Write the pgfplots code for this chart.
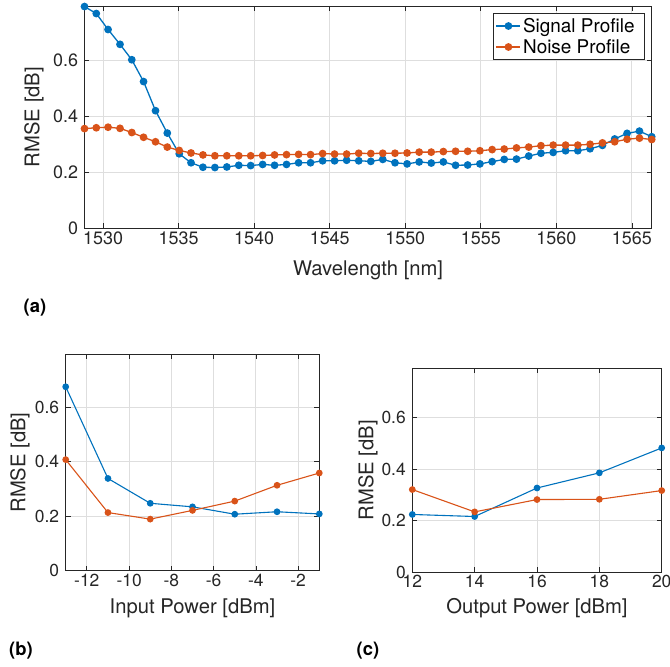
\documentclass[border=0pt]{standalone}
\usepackage{fontspec}
\setmainfont{TeX Gyre Heros}
\usepackage{pgfplots}
\usepackage{pgfplotstable}
\pgfplotsset{compat=1.18}
\definecolor{mblue}{rgb}{0,0.447,0.741}
\definecolor{morange}{rgb}{0.85,0.325,0.098}
\definecolor{axgray}{gray}{0.15}
\definecolor{gridgray}{gray}{0.87}

\pgfplotstableread{
lambda signal noise
1528.77 0.791 0.355
1529.55 0.766 0.358
1530.33 0.709 0.360
1531.12 0.656 0.356
1531.90 0.601 0.341
1532.68 0.523 0.324
1533.47 0.419 0.308
1534.25 0.339 0.289
1535.04 0.265 0.277
1535.82 0.233 0.268
1536.61 0.217 0.261
1537.40 0.216 0.258
1538.19 0.218 0.258
1538.98 0.224 0.258
1539.77 0.223 0.258
1540.56 0.227 0.259
1541.35 0.224 0.261
1542.14 0.227 0.262
1542.94 0.233 0.263
1543.73 0.233 0.262
1544.53 0.240 0.266
1545.32 0.240 0.264
1546.12 0.242 0.264
1546.92 0.240 0.267
1547.72 0.238 0.266
1548.51 0.245 0.267
1549.32 0.233 0.267
1550.12 0.229 0.268
1550.92 0.236 0.271
1551.72 0.232 0.271
1552.52 0.236 0.273
1553.33 0.224 0.274
1554.13 0.225 0.274
1554.94 0.229 0.276
1555.75 0.237 0.280
1556.55 0.245 0.282
1557.36 0.246 0.286
1558.17 0.257 0.289
1558.98 0.267 0.294
1559.79 0.270 0.296
1560.61 0.276 0.296
1561.42 0.276 0.296
1562.23 0.283 0.299
1563.05 0.295 0.304
1563.86 0.318 0.308
1564.68 0.338 0.317
1565.50 0.346 0.321
1566.31 0.326 0.316
}\wavetable

\pgfplotstableread{
pin signal noise
-13 0.674 0.407
-11 0.338 0.213
-9 0.247 0.189
-7 0.234 0.221
-5 0.207 0.255
-3 0.216 0.313
-1 0.208 0.358
}\intable

\pgfplotstableread{
pout signal noise
12 0.224 0.321
14 0.216 0.234
16 0.327 0.282
18 0.386 0.283
20 0.483 0.317
}\outtable

\newcommand{\labfont}{\fontsize{20.3}{23}\selectfont}
\pgfplotsset{
  mystyle/.style={
    scale only axis,
    anchor=south west,
    axis line style={axgray, line width=0.9bp},
    tick style={axgray, line width=0.8bp},
    tick align=inside,
    major tick length=5bp,
    grid=major,
    major grid style={gridgray, line width=0.9bp},
    ticklabel style={font=\fontsize{18}{20}\selectfont, text=axgray},
    yticklabel style={xshift=-3bp},
    /pgf/number format/assume math mode=true,
    /pgf/number format/1000 sep={},
    ymin=0, ymax=0.793,
    ytick={0,0.2,0.4,0.6},
    yticklabels={0,0.2,0.4,0.6},
  },
  smallticks/.style={ticklabel style={font=\fontsize{17.5}{20}\selectfont, text=axgray}},
  sigA/.style={color=mblue, line width=1.3bp, mark=*, mark size=3.2bp, mark options={solid, fill=mblue, draw=mblue}},
  noiA/.style={color=morange, line width=1.3bp, mark=*, mark size=3.2bp, mark options={solid, fill=morange, draw=morange}},
  sigB/.style={color=mblue, line width=1.1bp, mark=*, mark size=2.8bp, mark options={solid, fill=mblue, draw=mblue}},
  noiB/.style={color=morange, line width=1.1bp, mark=*, mark size=2.8bp, mark options={solid, fill=morange, draw=morange}},
}

\begin{document}
\begin{tikzpicture}
\path[use as bounding box] (0bp,0bp) rectangle (670bp,667bp);

% (a)
\begin{axis}[mystyle,
  at={(84.5bp,439bp)}, width=567.2bp, height=222bp,
  xmin=1528.77, xmax=1566.31,
  xtick={1530,1535,1540,1545,1550,1555,1560,1565},
  xticklabels={1530,1535,1540,1545,1550,1555,1560,1565},
  xlabel={Wavelength [nm]}, ylabel={RMSE [dB]},
  xlabel style={at={(axis description cs:0.5,-0.189)}, anchor=center, font=\labfont, text=axgray},
  ylabel style={at={(axis description cs:-0.089,0.5)}, anchor=center, rotate=0, font=\labfont, text=axgray},
  legend style={at={(0.988,0.967)}, anchor=north east, draw=axgray, line width=0.8bp,
    font=\fontsize{19}{22}\selectfont, text=black, cells={anchor=west},
    inner xsep=2bp, inner ysep=2.5bp, row sep=1.5bp},
  legend image code/.code={\draw[#1, mark repeat=2, mark phase=2] plot coordinates {(0bp,0bp) (12bp,0bp) (24bp,0bp)};},
]
\addplot[sigA] table[x=lambda, y=signal] {\wavetable};
\addlegendentry{Signal Profile\hspace*{6bp}}
\addplot[noiA] table[x=lambda, y=noise] {\wavetable};
\addlegendentry{Noise Profile}
\end{axis}

% (b)
\begin{axis}[mystyle, smallticks,
  at={(65.7bp,96.3bp)}, width=253.6bp, height=216.4bp,
  xmin=-13, xmax=-1,
  xtick={-12,-10,-8,-6,-4,-2},
  xticklabels={-12,-10,-8,-6,-4,-2},
  xlabel={Input Power [dBm]}, ylabel={RMSE [dB]},
  xlabel style={at={(axis description cs:0.5,-0.172)}, anchor=center, font=\labfont, text=axgray},
  ylabel style={at={(axis description cs:-0.180,0.5)}, anchor=center, rotate=0, font=\labfont, text=axgray},
]
\addplot[sigB] table[x=pin, y=signal] {\intable};
\addplot[noiB] table[x=pin, y=noise] {\intable};
\end{axis}

% (c)
\begin{axis}[mystyle, smallticks,
  at={(412.3bp,95bp)}, width=249.4bp, height=203.7bp,
  xmin=12, xmax=20,
  xtick={12,14,16,18,20},
  xticklabels={12,14,16,18,20},
  xlabel={Output Power [dBm]}, ylabel={RMSE [dB]},
  xlabel style={at={(axis description cs:0.5,-0.177)}, anchor=center, font=\labfont, text=axgray},
  ylabel style={at={(axis description cs:-0.178,0.5)}, anchor=center, rotate=0, font=\labfont, text=axgray},
]
\addplot[sigB] table[x=pout, y=signal] {\outtable};
\addplot[noiB] table[x=pout, y=noise] {\outtable};
\end{axis}

\node[font=\bfseries\fontsize{18.5}{20}\selectfont, text=black] at (35bp,359bp) {(a)};
\node[font=\bfseries\fontsize{18.5}{20}\selectfont, text=black] at (21bp,16bp) {(b)};
\node[font=\bfseries\fontsize{18.5}{20}\selectfont, text=black] at (368bp,16bp) {(c)};
\end{tikzpicture}
\end{document}
